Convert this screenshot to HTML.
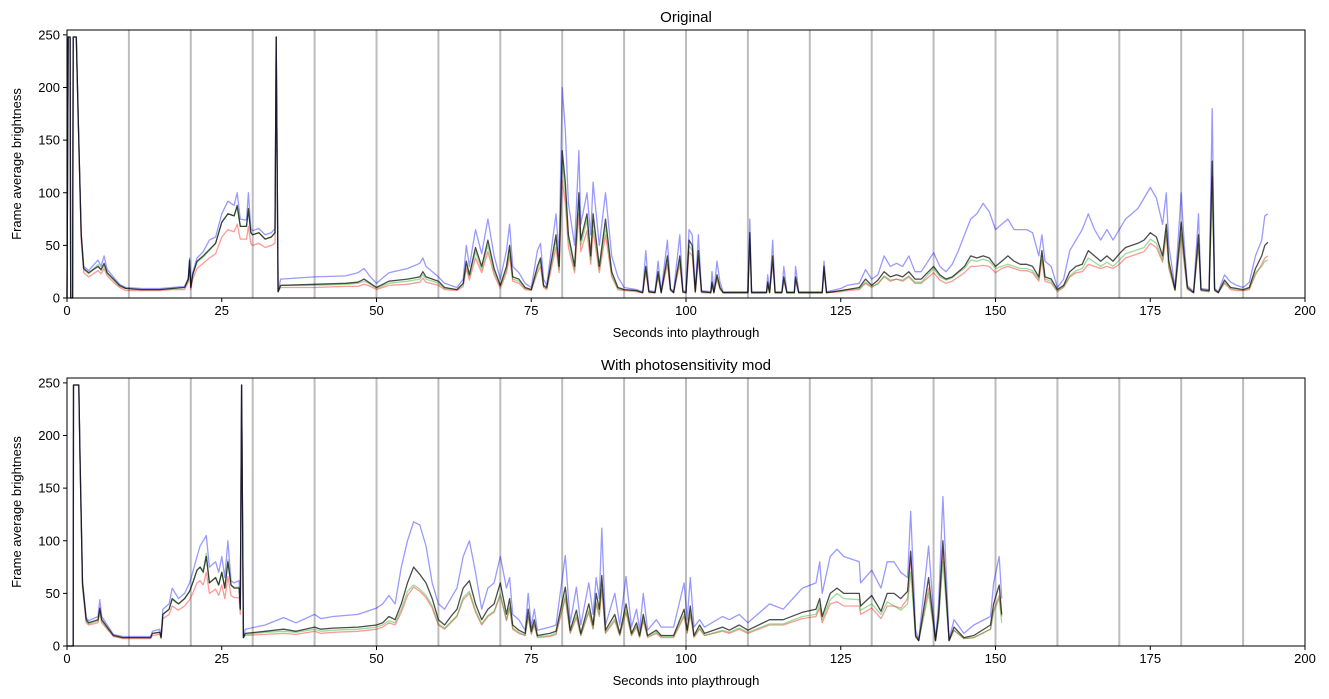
<!DOCTYPE html>
<html><head><meta charset="utf-8"><style>
html,body{margin:0;padding:0;background:#fff;}
svg{display:block;font-family:"Liberation Sans","DejaVu Sans",sans-serif;}
</style></head><body>
<svg id="chart" width="1329" height="699" viewBox="0 0 1329 699" xmlns="http://www.w3.org/2000/svg"></svg>
<script>
// ---- Top chart (Original) data ----
const topTimes = [
0,0.2,0.5,0.6,0.9,1.0,1.5,1.8,2.3,2.7,
3.5,5,5.5,6,6.5,7.5,8.5,9.5,12,15,
17,19,19.6,19.8,20,20.3,21,22,23,24,
25,26,27,27.5,28,29,29.3,29.7,30,31,
32,33,33.6,33.8,34.1,34.5,40,45,47,48,
49,50,52,55,57,57.5,58,60,61,63,
64,64.5,65,66,67,68,69,70,71,71.5,
72,73,74,75,76,76.5,77,77.5,79,79.5,
80,80.5,81,82,82.7,83,84,84.6,85,86,
87,88,89,90,92,93,93.5,94,95,95.5,
96,97,97.5,98,99,99.5,100,100.5,101,101.5,
102,102.5,104,104.2,104.5,105,105.5,106,110,110.3,
110.6,113,113.2,113.5,114,114.4,115.5,115.8,116.3,117.5,
117.7,118.2,122,122.3,122.7,125,126,128,129,130,
131,132,133,134,135,136,137,138,140,141,
142,143,144,145,146,147,148,149,150,151,
152,153,154,155,156,157,157.5,158,159,160,
161,162,163,164,165,166,167,168,169,170,
171,172,173,174,175,176,177,177.6,178,179,
180,180.5,181,182,182.8,183.2,184.5,185,185.4,186,
187,188,189,190,191,192,193,193.5,194];
const topBlack = [
0,248,248,0,0,248,248,175,60,28,
24,30,27,33,24,18,12,9,8,8,
9,10,18,36,10,22,35,40,46,52,
72,80,78,88,68,68,85,62,60,62,
56,58,62,248,6,12,13,14,15,18,
14,10,16,18,20,25,20,16,10,8,
14,35,22,48,30,55,28,12,30,50,
20,18,10,8,30,38,12,10,60,30,
140,110,60,30,100,55,80,40,80,30,
75,25,10,8,7,5,30,6,5,25,
5,40,8,5,40,6,5,55,50,6,
45,6,5,15,5,22,10,5,5,62,
5,5,15,5,40,5,5,20,5,5,
20,5,5,30,5,7,8,10,18,12,
17,25,20,22,20,25,18,18,30,22,
18,20,25,30,40,38,40,38,30,35,
40,35,32,32,30,20,45,20,18,8,
12,25,30,32,45,40,35,40,35,42,
48,50,52,55,62,58,40,70,35,8,
72,40,10,5,60,8,7,130,8,5,
17,10,9,8,10,28,40,50,53];
const topBlue = [
0,248,248,0,0,248,248,175,62,30,
26,36,30,40,27,20,13,10,9,9,
10,11,19,38,11,24,38,44,55,58,
80,92,88,100,75,74,100,66,64,66,
60,62,66,248,6,18,20,21,24,28,
20,14,24,28,33,38,30,20,14,10,
18,50,30,65,42,75,40,18,45,70,
30,24,14,10,45,52,18,12,80,40,
200,160,90,50,140,70,100,60,110,50,
100,40,20,10,8,6,45,7,6,35,
6,55,9,6,60,7,6,65,60,7,
60,7,6,25,6,35,15,6,6,75,
6,6,22,6,55,6,6,30,6,6,
30,6,6,35,6,9,12,14,27,18,
22,40,30,33,30,40,25,25,43,30,
25,32,45,60,75,80,90,82,65,70,
75,65,65,65,62,40,60,35,30,10,
18,45,55,65,80,65,55,65,55,65,
75,80,85,95,105,95,70,100,50,10,
100,50,12,6,80,9,8,180,9,6,
22,15,12,10,15,40,55,78,80];
const topRed = [
0,248,248,0,0,248,248,175,55,24,
20,26,23,28,21,15,10,7,7,7,
8,8,15,30,8,18,28,33,38,42,
58,65,63,70,56,56,68,52,50,52,
48,50,52,248,6,10,10,11,11,13,
11,8,12,13,15,19,15,12,8,7,
11,28,17,38,24,44,22,9,24,40,
16,14,8,7,24,30,10,8,48,24,
112,90,48,24,80,44,64,32,64,24,
60,20,8,7,6,5,25,5,5,20,
5,32,7,5,32,5,5,44,40,5,
36,5,5,12,5,18,8,5,5,50,
5,5,12,5,32,5,5,16,5,5,
16,5,5,24,5,6,7,8,14,10,
14,20,16,18,16,20,14,14,24,17,
14,16,20,24,30,30,31,30,24,28,
30,28,26,26,24,16,36,16,14,6,
10,20,24,25,32,30,28,30,28,32,
38,40,42,44,52,48,34,60,28,7,
60,32,8,5,50,7,6,115,7,5,
14,8,7,7,8,22,32,38,40];
const topGreen = [
0,248,248,0,0,248,248,175,60,27,
23,32,26,31,23,17,11,9,8,8,
9,10,17,34,10,22,34,39,45,52,
72,80,78,86,68,68,83,62,60,62,
56,58,62,248,6,12,12,13,14,16,
13,9,14,16,18,22,18,14,9,8,
13,32,20,44,27,50,25,11,27,46,
18,16,9,8,27,35,11,9,55,27,
130,100,55,27,92,50,74,36,74,27,
68,22,9,8,7,5,28,6,5,22,
5,36,8,5,36,6,5,50,45,6,
40,6,5,14,5,20,9,5,5,56,
5,5,14,5,36,5,5,18,5,5,
18,5,5,27,5,7,8,9,15,11,
13,21,17,18,17,21,15,15,28,20,
17,19,24,28,36,35,37,35,28,30,
32,30,28,28,26,18,40,18,16,7,
11,21,26,28,38,34,30,34,30,36,
42,44,46,48,56,52,36,64,30,7,
62,34,9,5,52,7,6,100,7,5,
15,9,8,7,9,24,30,35,36];

// ---- Bottom chart (With photosensitivity mod) data ----
const botTimes = [
0,1,1.05,1.9,2.1,2.5,3.1,3.5,5,5.3,
5.6,6.5,7.5,9,13.5,13.8,15,15.2,15.5,16.5,
17,18,19,19.8,20.3,21,21.5,22,22.5,23,
24,24.5,25,25.5,26,26.5,27,27.8,28,28.2,
28.5,28.8,32,35,37,40,41,43,47,50,
51,52,53,54,55,56,57,58,59,60,
61,62,63,64,65,66,67,68,69,70,
71,71.5,72,73,74,74.5,75,75.5,76,78,
79,80.5,81.3,82.3,83,84.3,85,85.5,86,86.4,
87,88.5,89.3,90.3,91.2,92,92.5,93.1,93.8,95.2,
96,98,99.7,100.2,100.7,101.3,102.2,103,105.9,107,
108.6,110,113.5,115.7,118.8,121,121.6,122,123.3,124.4,
125.5,128,128.2,130,131.5,132.5,133.6,134.7,135.8,136.3,
137.1,137.6,139.2,140.3,140.8,141.5,142.5,143.3,144.9,146.5,
149.2,149.7,150.6,151];
const botBlack = [
0,0,248,248,180,60,25,22,25,36,
25,18,10,8,8,12,13,8,30,35,
45,40,45,52,60,72,75,70,85,60,
65,58,70,55,80,58,55,55,35,248,
8,12,14,16,14,18,16,17,18,20,
22,28,25,40,60,75,68,60,45,25,
20,28,35,55,62,40,25,35,40,60,
30,45,20,15,12,35,14,25,10,12,
14,56,15,34,12,40,20,50,35,67,
15,30,12,40,12,22,10,30,10,15,
10,10,35,15,38,10,20,12,18,15,
20,15,25,25,32,35,45,28,50,55,
50,50,38,48,33,50,50,45,52,90,
10,5,65,5,30,100,5,18,8,10,
20,40,58,30];
const botBlue = [
0,0,248,248,180,62,27,24,28,44,
28,20,11,9,9,14,16,9,35,40,
55,45,50,60,70,85,95,100,105,75,
80,70,85,65,100,62,60,62,36,248,
8,16,20,27,22,30,26,28,30,36,
40,48,40,75,100,118,115,95,60,40,
35,45,55,85,100,70,35,55,60,85,
55,65,30,25,15,50,18,35,15,18,
20,86,22,56,20,60,30,65,45,112,
20,50,20,66,18,35,15,50,15,25,
18,18,60,25,65,18,25,18,28,25,
30,22,40,35,55,60,80,50,85,92,
85,80,60,72,55,80,80,70,65,128,
15,6,95,6,40,142,6,25,12,20,
28,60,85,45];
const botRed = [
0,0,248,248,180,55,22,20,22,32,
22,16,9,7,7,10,11,7,26,30,
38,34,38,44,50,60,62,58,70,50,
54,48,58,45,66,48,46,46,30,248,
8,10,11,12,11,14,12,13,14,16,
18,22,20,32,48,56,52,46,36,20,
16,22,28,44,50,32,20,28,32,48,
24,36,16,12,10,28,11,20,8,9,
11,45,12,27,10,32,16,40,28,54,
12,24,10,32,10,18,8,24,8,12,
8,8,28,12,30,8,16,10,14,12,
16,12,20,20,26,28,36,22,40,42,
38,38,30,36,26,38,38,36,45,85,
8,5,55,5,25,90,5,15,7,8,
16,34,48,28];
const botGreen = [
0,0,248,248,180,58,24,21,24,34,
24,17,10,8,8,12,13,8,30,35,
44,40,45,52,60,72,75,72,88,60,
65,58,70,55,82,58,56,56,34,248,
8,11,13,14,13,16,14,15,16,18,
20,24,22,35,52,58,54,48,38,21,
17,23,29,46,52,34,21,29,33,50,
25,38,17,13,10,29,12,21,9,10,
12,48,13,29,10,34,17,42,30,58,
13,26,10,34,10,19,9,26,9,13,
9,9,30,13,32,9,17,10,15,13,
17,13,21,21,28,30,40,25,44,50,
45,44,34,40,30,42,38,34,40,70,
9,5,50,5,25,80,5,15,7,8,
16,32,45,22];

const xTicks = [0,25,50,75,100,125,150,175,200];
const yTicks = [0,50,100,150,200,250];
const sectionMarks = [10,20,30,40,50,60,70,80,90,100,110,120,130,140,150,160,170,180,190];

const NS = 'http://www.w3.org/2000/svg';
const svg = document.getElementById('chart');
function mk(tag, attrs, parent) {
  const e = document.createElementNS(NS, tag);
  for (const k in attrs) e.setAttribute(k, attrs[k]);
  (parent || svg).appendChild(e);
  return e;
}

function drawPanel(cfg) {
  const L = 67, R = 1305, T = cfg.top, B = cfg.bottom;
  const xMax = 200, yMax = 262;
  const xs = v => L + (v / xMax) * (R - L);
  const ys = v => B - v * cfg.yScale;
  const g = mk('g', {});
  
  

  sectionMarks.forEach(s => {
    const l = mk('line', {x1: xs(s), x2: xs(s), y1: T, y2: B, stroke: '#bdbdbd', 'stroke-width': 2}, g);
    
    
  });

  const series = [
    {vals: cfg.red, color: 'rgba(255,0,0,0.4)', n: 'red'},
    {vals: cfg.green, color: 'rgba(0,170,0,0.4)', n: 'green'},
    {vals: cfg.blue, color: 'rgba(0,0,255,0.4)', n: 'blue'},
    {vals: cfg.black, color: 'rgba(0,0,0,0.7)', n: 'luminance'}
  ];
  series.forEach(s => {
    const n = Math.min(cfg.times.length, s.vals.length);
    let d = '';
    for (let i = 0; i < n; i++) d += (i ? 'L' : 'M') + xs(cfg.times[i]).toFixed(1) + ',' + ys(s.vals[i]).toFixed(1);
    const p = mk('path', {d: d, fill: 'none', stroke: s.color, 'stroke-width': 1.3, 'stroke-linejoin': 'round'}, g);
    
    
  });

  const frame = mk('rect', {x: L, y: T, width: R - L, height: B - T, fill: 'none', stroke: '#000', 'stroke-width': 1}, g);
  
  

  xTicks.forEach(t => {
    mk('line', {x1: xs(t), x2: xs(t), y1: B, y2: B + 4, stroke: '#000'}, g);
    const tx = mk('text', {x: xs(t), y: B + 17, 'text-anchor': 'middle', 'font-size': 13, fill: '#000'}, g);
    tx.textContent = t;
    
    
  });
  yTicks.forEach(t => {
    mk('line', {x1: L - 4, x2: L, y1: ys(t), y2: ys(t), stroke: '#000'}, g);
    const tx = mk('text', {x: L - 7, y: ys(t) + 4.5, 'text-anchor': 'end', 'font-size': 13, fill: '#000'}, g);
    tx.textContent = t;
    
    
  });

  const title = mk('text', {x: (L + R) / 2, y: T - 8, 'text-anchor': 'middle', 'font-size': 15, fill: '#000'}, g);
  title.textContent = cfg.title;
  
  

  const xl = mk('text', {x: (L + R) / 2, y: B + 39, 'text-anchor': 'middle', 'font-size': 13, fill: '#000'}, g);
  xl.textContent = 'Seconds into playthrough';
  
  

  const cy = (T + B) / 2;
  const yl = mk('text', {x: 21, y: cy, 'text-anchor': 'middle', 'font-size': 13, fill: '#000', transform: 'rotate(-90 21 ' + cy + ')'}, g);
  yl.textContent = 'Frame average brightness';
  
  
}

drawPanel({name: 'original', title: 'Original', top: 30, bottom: 298, yScale: 1.0525,
  times: topTimes, black: topBlack, blue: topBlue, red: topRed, green: topGreen});
drawPanel({name: 'modded', title: 'With photosensitivity mod', top: 378, bottom: 646, yScale: 1.0525,
  times: botTimes, black: botBlack, blue: botBlue, red: botRed, green: botGreen});
</script>
</body></html>
